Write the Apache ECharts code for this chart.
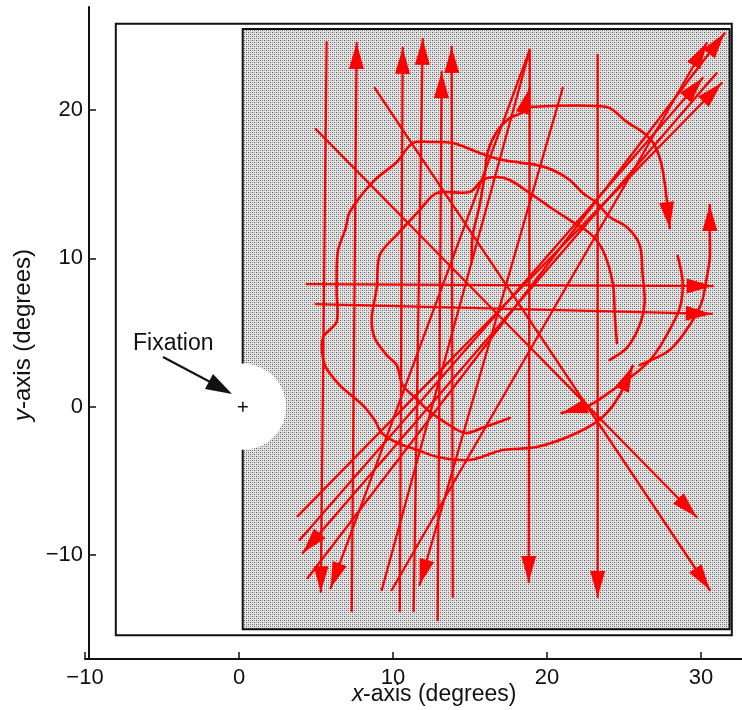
<!DOCTYPE html>
<html>
<head>
<meta charset="utf-8">
<script src="https://cdn.jsdelivr.net/npm/echarts@6/dist/echarts.min.js"></script>
<style>
  html, body { margin: 0; padding: 0; background: #ffffff; }
  #chart { width: 742px; height: 710px; }
</style>
</head>
<body>
<div id="chart"></div>
<script>
// ---- Axis ticks (degrees) ----
const xTicks = [-10, 0, 10, 20, 30];
const yTicks = [-10, 0, 10, 20];

// ---- Display frame and stimulated field (degrees) ----
const frameX = [-8.0, 32.0];
const frameY = [-15.4, 25.8];
const fieldX = [0.24, 31.86];
const fieldY = [-15.0, 25.45];
const fixation = [0.25, 0];
const sparedRadius = 2.8;

// ---- Eye-movement traces, [x, y] in degrees, in order of movement ----
// vertical saccades
const vert1 = [[5.69, 24.57], [5.31, -12.49]];
const vert2 = [[7.32, -13.77], [7.64, 24.51]];
const vert3 = [[10.44, -13.77], [10.63, 24.18]];
const vert4 = [[11.34, -13.77], [11.93, 24.78]];
const vert5 = [[12.90, -14.38], [13.16, 22.55]];
const vert6 = [[13.88, -12.82], [13.81, 24.24]];
const vert7 = [[9.27, -12.35], [18.88, 24.04], [18.81, -11.81]];
const vert8 = [[23.29, 23.70], [23.29, -12.82]];
// steep oblique saccades
const steep1 = [[21.02, 21.48], [11.73, -12.01]];
const steep2 = [[18.88, 24.04], [5.95, -12.22]];
// horizontal saccades
const horiz1 = [[4.40, 8.26], [30.76, 8.13]];
const horiz2 = [[4.98, 6.92], [30.70, 6.25]];
// oblique saccades, falling to the right
const fall1 = [[4.98, 18.71], [29.72, -7.43]];
const fall2 = [[8.81, 21.48], [30.57, -12.35]];
// oblique saccades, rising to the right
const rise1 = [[3.81, -7.37], [31.34, 21.81]];
const rise2 = [[4.46, -11.54], [31.54, 25.18]];
const rise3 = [[31.02, 22.48], [4.14, -9.86]];
const rise4 = [[9.92, -12.35], [30.37, 24.51]];
const rise5 = [[3.94, -8.98], [30.11, 22.15]];
// circular pursuit traces
const loopOuter = [
  [24.07, 3.15], [25.18, 3.96], [26.02, 5.51], [26.34, 7.05], [26.21, 8.87],
  [26.02, 10.90], [25.18, 12.11], [24.07, 12.78], [23.23, 13.73], [22.32, 14.40],
  [21.47, 15.28], [20.37, 15.95], [19.33, 16.29], [17.12, 16.62], [15.63, 17.10],
  [13.88, 17.77], [12.38, 17.84], [11.28, 17.77], [10.24, 16.49], [8.68, 15.14],
  [7.19, 13.12], [6.93, 12.04], [6.41, 10.42], [6.34, 7.73], [6.34, 5.71],
  [5.44, 4.63], [5.57, 2.81], [6.54, 1.46], [8.03, 0.11], [8.81, -0.90],
  [9.27, -1.77], [10.31, -2.45], [11.60, -2.92], [12.90, -3.39], [14.98, -3.59],
  [17.12, -2.92], [19.33, -2.72], [21.93, -1.77], [23.62, -0.69], [24.72, 0.79],
  [25.56, 2.74]
];
const loopInner = [
  [24.54, 4.29], [24.41, 6.04], [24.27, 8.33], [23.62, 10.56], [22.77, 11.70],
  [21.47, 12.58], [20.18, 13.46], [18.88, 14.40], [17.58, 15.28], [16.73, 15.48],
  [15.82, 15.28], [14.98, 14.47], [12.84, 14.40], [11.73, 13.25], [10.24, 11.57],
  [9.14, 10.22], [8.94, 7.99], [8.62, 5.98], [8.81, 4.63], [9.59, 3.48],
  [10.24, 2.81], [10.63, 1.46], [11.60, 0.45], [12.25, -0.22], [13.16, -0.90],
  [14.66, -1.77], [15.95, -1.37], [17.58, -0.76]
];
const loopRise = [
  [15.11, 9.74], [15.18, 11.57], [15.63, 13.59], [15.95, 15.61], [16.15, 17.16],
  [16.73, 18.51], [17.58, 19.45], [18.49, 19.93], [18.88, 21.48]
];
const loopUpper = [
  [18.88, 20.20], [23.88, 20.20], [25.18, 19.19], [26.21, 18.51], [26.99, 17.63],
  [27.51, 15.95], [27.97, 12.04]
];
const arcRight = [
  [26.02, 2.81], [27.97, 3.82], [29.27, 5.51], [30.05, 7.05], [30.37, 8.67],
  [30.57, 10.02], [30.57, 11.77], [30.57, 13.59]
];
const arcLower = [
  [28.49, 10.15], [28.81, 8.40], [28.62, 6.65], [27.77, 4.83], [26.86, 3.35],
  [26.02, 2.48], [24.27, 1.13], [22.77, 0.11], [20.95, -0.42]
];

const traces = [
  { pts: vert1, arrow: true }, { pts: vert2, arrow: true }, { pts: vert3, arrow: true },
  { pts: vert4, arrow: true }, { pts: vert5, arrow: true }, { pts: vert6, arrow: true },
  { pts: vert7, arrow: true }, { pts: vert8, arrow: true },
  { pts: steep1, arrow: true }, { pts: steep2, arrow: true },
  { pts: horiz1, arrow: true }, { pts: horiz2, arrow: true },
  { pts: fall1, arrow: true }, { pts: fall2, arrow: true },
  { pts: rise1, arrow: true }, { pts: rise2, arrow: true }, { pts: rise3, arrow: true },
  { pts: rise4, arrow: true }, { pts: rise5, arrow: true },
  { pts: loopOuter, arrow: true, curve: true }, { pts: loopInner, arrow: false, curve: true },
  { pts: loopRise, arrow: true, curve: true }, { pts: loopUpper, arrow: true, curve: true },
  { pts: arcRight, arrow: true, curve: true }, { pts: arcLower, arrow: true, curve: true }
];

const RED = '#ff0000';
const FONT = "'Liberation Sans', Arial, Helvetica, sans-serif";

// Halftone screen used for the stimulated field
function halftone() {
  const c = document.createElement('canvas');
  c.width = 4; c.height = 4;
  const g = c.getContext('2d');
  g.fillStyle = '#e2e2e2'; g.fillRect(0, 0, 4, 4);
  g.fillStyle = '#5e5e5e'; g.fillRect(0, 0, 1, 1); g.fillRect(2, 2, 1, 1);
  g.fillStyle = '#a0a0a0'; g.fillRect(2, 0, 1, 1); g.fillRect(0, 2, 1, 1);
  return c;
}
const screen = halftone();

function rectPoints(api, xs, ys) {
  const a = api.coord([xs[0], ys[1]]);
  const b = api.coord([xs[1], ys[0]]);
  return { x: a[0], y: a[1], width: b[0] - a[0], height: b[1] - a[1] };
}

const chart = echarts.init(document.getElementById('chart'));

chart.setOption({
  animation: false,
  backgroundColor: '#ffffff',
  grid: { left: 85, top: 7, width: 657, height: 652 },
  xAxis: {
    type: 'value',
    min: -10,
    max: -10 + 657 / 15.4,
    splitLine: { show: false },
    axisLine: { onZero: false, lineStyle: { color: '#111', width: 2 } },
    axisTick: { inside: true, length: 7, customValues: xTicks, lineStyle: { color: '#111', width: 1.5 } },
    axisLabel: {
      customValues: xTicks, margin: 8, color: '#111', fontSize: 22, fontFamily: FONT,
      formatter: v => String(v).replace('-', '\u2212')
    }
  },
  yAxis: {
    type: 'value',
    min: -17,
    max: -17 + 652 / 14.84,
    offset: -4,
    splitLine: { show: false },
    axisLine: { onZero: false, lineStyle: { color: '#111', width: 2 } },
    axisTick: { inside: true, length: 7, customValues: yTicks, lineStyle: { color: '#111', width: 1.5 } },
    axisLabel: {
      customValues: yTicks, margin: 6, color: '#111', fontSize: 22, fontFamily: FONT,
      formatter: v => String(v).replace('-', '\u2212')
    }
  },
  graphic: [
    { type: 'text', z: 100, x: 352, y: 695, style: { text: 'x', fontSize: 23, fontStyle: 'italic', fontFamily: FONT, fill: '#111', textAlign: 'left', textVerticalAlign: 'middle' } },
    { type: 'text', z: 100, x: 363, y: 695, style: { text: '-axis (degrees)', fontSize: 23, fontFamily: FONT, fill: '#111', textAlign: 'left', textVerticalAlign: 'middle' } },
    {
      type: 'group', z: 100, x: 23, y: 334, rotation: Math.PI / 2,
      children: [
        { type: 'text', x: -87, y: 0, style: { text: 'y', fontSize: 24, fontStyle: 'italic', fontFamily: FONT, fill: '#111', textAlign: 'left', textVerticalAlign: 'middle' } },
        { type: 'text', x: -75, y: 0, style: { text: '-axis (degrees)', fontSize: 24, fontFamily: FONT, fill: '#111', textAlign: 'left', textVerticalAlign: 'middle' } }
      ]
    },
    { type: 'text', z: 100, x: 133, y: 344, style: { text: 'Fixation', fontSize: 23, fontFamily: FONT, fill: '#111', textAlign: 'left', textVerticalAlign: 'middle' } },
    { type: 'line', z: 100, shape: { x1: 163, y1: 357, x2: 214, y2: 384 }, style: { stroke: '#111', lineWidth: 2 } },
    { type: 'polygon', z: 100, shape: { points: [[232, 394], [205, 389], [213, 374]] }, style: { fill: '#111' } }
  ],
  series: [
    {
      // display frame, stimulated field and spared zone around fixation
      type: 'custom',
      coordinateSystem: 'cartesian2d',
      silent: true,
      z: 1,
      data: [[0, 0]],
      renderItem: function (params, api) {
        const fr = rectPoints(api, frameX, frameY);
        const fl = rectPoints(api, fieldX, fieldY);
        const c = api.coord(fixation);
        const r = api.size([sparedRadius, 0])[0];
        return {
          type: 'group',
          children: [
            { type: 'rect', shape: fr, style: { fill: 'none', stroke: '#111', lineWidth: 2 } },
            { type: 'rect', shape: fl, style: { fill: { image: screen, repeat: 'repeat' }, stroke: '#111', lineWidth: 2 } },
            { type: 'circle', shape: { cx: c[0], cy: c[1], r: r }, style: { fill: '#ffffff' } }
          ]
        };
      }
    },
    {
      // fixation cross
      type: 'custom',
      coordinateSystem: 'cartesian2d',
      silent: true,
      z: 3,
      data: [fixation],
      renderItem: function (params, api) {
        const p = api.coord([api.value(0), api.value(1)]);
        return {
          type: 'group',
          children: [
            { type: 'line', shape: { x1: p[0] - 5, y1: p[1], x2: p[0] + 5, y2: p[1] }, style: { stroke: '#111', lineWidth: 1.5 } },
            { type: 'line', shape: { x1: p[0], y1: p[1] - 5, x2: p[0], y2: p[1] + 5 }, style: { stroke: '#111', lineWidth: 1.5 } }
          ]
        };
      }
    },
    {
      // eye-movement traces with arrowheads at their end points
      type: 'custom',
      coordinateSystem: 'cartesian2d',
      silent: true,
      z: 4,
      data: traces.map((t, i) => [t.pts[0][0], t.pts[0][1], i]),
      encode: { x: 0, y: 1 },
      renderItem: function (params, api) {
        const t = traces[api.value(2)];
        const pts = t.pts.map(p => api.coord(p));
        const children = [{
          type: 'polyline',
          shape: { points: pts, smooth: t.curve ? 0.3 : 0 },
          style: { stroke: RED, lineWidth: t.curve ? 2.6 : 2.3, fill: null, lineJoin: 'round', lineCap: 'round' }
        }];
        if (t.arrow) {
          const a = pts[pts.length - 2], b = pts[pts.length - 1];
          const dx = b[0] - a[0], dy = b[1] - a[1];
          const len = Math.hypot(dx, dy);
          const ux = dx / len, uy = dy / len;
          const L = 26, W = 7.5;
          const bx = b[0] - ux * L, by = b[1] - uy * L;
          children.push({
            type: 'polygon',
            shape: { points: [b, [bx - uy * W, by + ux * W], [bx + uy * W, by - ux * W]] },
            style: { fill: RED }
          });
        }
        return { type: 'group', children: children };
      }
    }
  ]
});
</script>
</body>
</html>
